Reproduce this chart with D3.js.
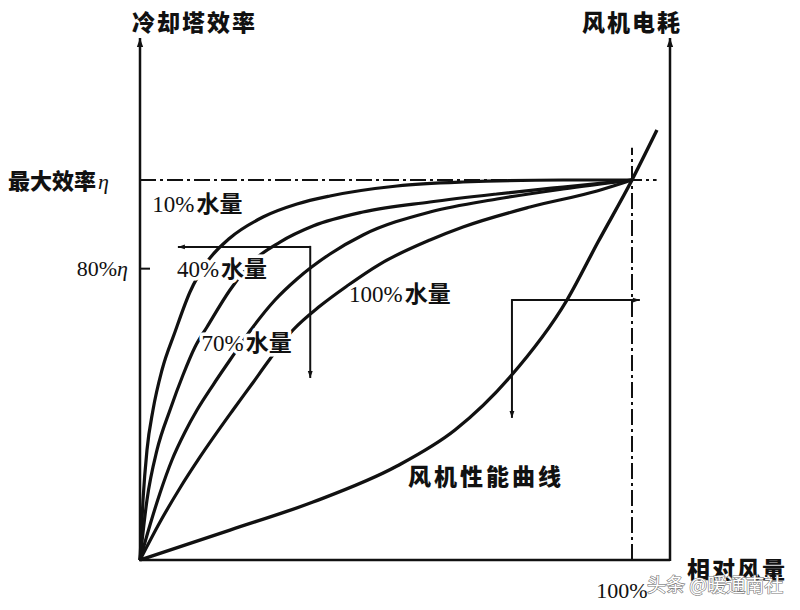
<!DOCTYPE html>
<html><head><meta charset="utf-8">
<script src="https://cdn.jsdelivr.net/npm/d3@7"></script>
<style>body{margin:0;background:#fff}</style>
</head><body><svg id="c" width="800" height="610"></svg>
<script>
// ---- data (x: relative air flow %, y: % of max efficiency / fan power) ----
const water10  = [[0,0],[0.61,15.79],[1.42,28.95],[2.64,39.47],[4.47,50],[7.11,60],[10.16,70.53],[13.62,78.42],[18.29,84.74],[25,90.26],[31.91,93.68],[38.62,95.79],[52.24,98.42],[65.65,99.47],[85.98,100],[100,100]];
const water40  = [[0,0],[1.42,15.79],[3.46,28.95],[6.1,39.47],[8.74,48.68],[11.18,56.05],[13.62,61.32],[18.29,71.05],[22.97,78.68],[28.46,83.68],[35.16,87.89],[45.33,91.58],[58.94,94.21],[72.56,96.32],[85.98,98.16],[100,100]];
const water70  = [[0,0],[2.03,9.21],[4.07,17.63],[6.5,26.32],[9.15,33.68],[11.59,39.47],[14.84,46.05],[18.29,52.63],[22.36,60.26],[27.44,68.42],[31.91,73.95],[38.62,80.53],[45.33,85.53],[58.94,91.58],[72.56,95],[85.98,97.63],[100,100]];
const water100 = [[0,0],[4.07,10],[8.13,18.95],[12.2,27.11],[18.9,39.47],[22.76,46.32],[26.42,52.89],[31.1,60.53],[36.59,66.84],[42.07,72.11],[48.78,77.89],[58.94,84.21],[65.65,87.63],[79.27,92.89],[92.89,97.11],[100,100]];
const fanCurve = [[0,0],[18.29,7.89],[35.16,15.26],[52.24,24.74],[64.02,34.21],[75.2,48.16],[86.79,68.42],[93.09,83.68],[100,100],[105.08,113.16]];
const curveLabels = ["10%", "40%", "70%", "100%"];
const labelPos = [[2.5,91.5],[7.5,74.5],[12.5,55],[42.5,68]]; // label anchor (flow, eff)
const effArrow = [34.6, 82.4, 7.7, 47.9];   // corner x, corner y, left tip x, down tip y
const fanArrow = [75.6, 68.4, 101.6, 37.4]; // corner x, corner y, right tip x, down tip y
const maxEff = 100, eff80 = 76.8, fullFlow = 100;

const svg = d3.select("#c");
const x = d3.scaleLinear().domain([0, 100]).range([140, 632]);
const y = d3.scaleLinear().domain([0, 100]).range([560, 180]);
const LW = "#111";
const serif = "'Liberation Serif','Noto Sans CJK SC',serif";
const cjk = "'Noto Sans CJK SC',sans-serif";

const defs = svg.append("defs");
function marker(id, w, h) {
  defs.append("marker").attr("id", id).attr("viewBox", "0 0 10 10")
    .attr("refX", 10).attr("refY", 5).attr("markerWidth", w).attr("markerHeight", h)
    .attr("markerUnits", "userSpaceOnUse").attr("orient", "auto")
    .append("path").attr("d", "M0,1.5 L10,5 L0,8.5 Z").attr("fill", LW);
}
marker("ax", 14, 9);
marker("ar", 14, 7);

// axes
const axTop = 38;
svg.append("line").attr("x1", x(0)).attr("y1", y(0)).attr("x2", x(0)).attr("y2", axTop)
  .attr("stroke", LW).attr("stroke-width", 2.5).attr("marker-end", "url(#ax)");
svg.append("line").attr("x1", 670).attr("y1", y(0) + 1).attr("x2", 670).attr("y2", axTop)
  .attr("stroke", LW).attr("stroke-width", 2.5).attr("marker-end", "url(#ax)");
svg.append("line").attr("x1", x(0) - 1).attr("y1", y(0)).attr("x2", 670).attr("y2", y(0))
  .attr("stroke", LW).attr("stroke-width", 2.5);

// left axis tick via d3 axis
const yAxis = d3.axisRight(y).tickValues([eff80]).tickSize(10).tickFormat("").tickSizeOuter(0);
const ga = svg.append("g").attr("transform", `translate(${x(0)},0)`).call(yAxis);
ga.select(".domain").remove();
ga.selectAll(".tick line").attr("stroke", LW).attr("stroke-width", 2);

// max efficiency dash-dot line
svg.append("line").attr("x1", x(0)).attr("x2", x(105)).attr("y1", y(maxEff)).attr("y2", y(maxEff))
  .attr("stroke", LW).attr("stroke-width", 2).attr("stroke-dasharray", "16,4,3,4");
// 100% flow dash-dot line
svg.append("line").attr("x1", x(fullFlow)).attr("x2", x(fullFlow)).attr("y1", y(0)).attr("y2", y(108.5))
  .attr("stroke", LW).attr("stroke-width", 2).attr("stroke-dasharray", "16,4,3,4");

// curves
const line = d3.line().x(d => x(d[0])).y(d => y(d[1])).curve(d3.curveMonotoneX);
[water10, water40, water70, water100].forEach(c => {
  svg.append("path").attr("d", line(c)).attr("fill", "none").attr("stroke", LW).attr("stroke-width", 3.2);
});
svg.append("path").attr("d", line(fanCurve)).attr("fill", "none").attr("stroke", LW).attr("stroke-width", 3.4);

// arrows
function elbow(a) {
  svg.append("line").attr("x1", x(a[0])).attr("y1", y(a[1])).attr("x2", x(a[2])).attr("y2", y(a[1]))
    .attr("stroke", LW).attr("stroke-width", 2).attr("marker-end", "url(#ar)");
  svg.append("line").attr("x1", x(a[0])).attr("y1", y(a[1]) - 1).attr("x2", x(a[0])).attr("y2", y(a[3]))
    .attr("stroke", LW).attr("stroke-width", 2).attr("marker-end", "url(#ar)");
}
elbow(effArrow);
elbow(fanArrow);

// curve labels with white halo
curveLabels.forEach((t, i) => {
  const tx = svg.append("text").attr("x", x(labelPos[i][0])).attr("y", y(labelPos[i][1]))
    .attr("font-size", 23).attr("fill", LW)
    .attr("stroke", "#fff").attr("stroke-width", 7).attr("paint-order", "stroke").attr("stroke-linejoin", "round");
  tx.append("tspan").attr("font-family", serif).text(t);
  tx.append("tspan").attr("font-family", cjk).attr("font-weight", 700).attr("dx", 2).text("水量");
});

// axis texts
svg.append("text").attr("x", 132).attr("y", 31).attr("font-family", cjk).attr("font-weight", 900)
  .attr("font-size", 23).attr("letter-spacing", 2).attr("fill", LW).text("冷却塔效率");
svg.append("text").attr("x", 582).attr("y", 31).attr("font-family", cjk).attr("font-weight", 900)
  .attr("font-size", 23).attr("letter-spacing", 2).attr("fill", LW).text("风机电耗");
const t1 = svg.append("text").attr("x", 8).attr("y", y(maxEff) + 9).attr("font-size", 22).attr("fill", LW);
t1.append("tspan").attr("font-family", cjk).attr("font-weight", 900).text("最大效率");
t1.append("tspan").attr("font-family", serif).attr("font-style", "italic").attr("dx", 2).text("η");
const t2 = svg.append("text").attr("x", 128).attr("y", y(eff80) + 8).attr("text-anchor", "end").attr("font-size", 22).attr("fill", LW);
t2.append("tspan").attr("font-family", serif).text("80%");
t2.append("tspan").attr("font-family", serif).attr("font-style", "italic").text("η");
svg.append("text").attr("x", x(fullFlow) - 10).attr("y", 598).attr("text-anchor", "middle")
  .attr("font-family", serif).attr("font-size", 22).attr("fill", LW).text("100%");
svg.append("text").attr("x", 687).attr("y", 578).attr("font-family", cjk).attr("font-weight", 900)
  .attr("font-size", 23).attr("letter-spacing", 2).attr("fill", LW).text("相对风量");
svg.append("text").attr("x", 408).attr("y", 485).attr("font-family", cjk).attr("font-weight", 900)
  .attr("font-size", 23).attr("letter-spacing", 3).attr("fill", LW).text("风机性能曲线");

// watermark
svg.append("text").attr("x", 647).attr("y", 592).attr("font-family", cjk).attr("font-size", 19)
  .attr("fill", "#fff").attr("stroke", "#777").attr("stroke-width", 1.2).attr("paint-order", "stroke")
  .text("头条 @暖通南社");
</script></body></html>
